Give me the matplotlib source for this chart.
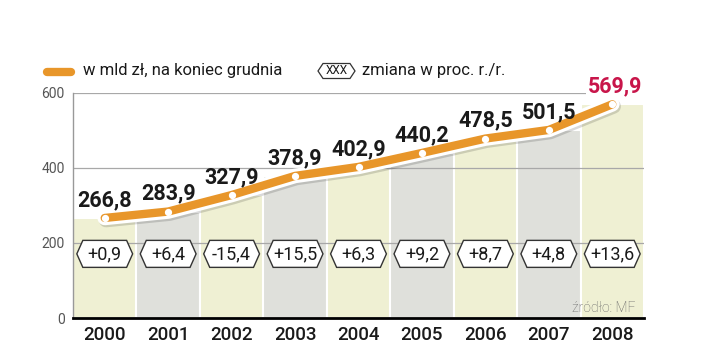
import numpy as np
import matplotlib.pyplot as plt
import matplotlib.patheffects as pe
from matplotlib.patches import Polygon
from matplotlib.lines import Line2D

plt.rcParams['font.family'] = ['Roboto', 'DejaVu Sans']

# data
years = ["2000", "2001", "2002", "2003", "2004", "2005", "2006", "2007", "2008"]
values = [266.8, 283.9, 327.9, 378.9, 402.9, 440.2, 478.5, 501.5, 569.9]
value_labels = ["266,8", "283,9", "327,9", "378,9", "402,9", "440,2", "478,5", "501,5", "569,9"]
changes = ["+0,9", "+6,4", "-15,4", "+15,5", "+6,3", "+9,2", "+8,7", "+4,8", "+13,6"]
yticks = [0, 200, 400, 600]

CREAM = "#eff0d3"
GREY = "#dfe0db"
ORANGE = "#e8962a"
RED = "#c8154a"
DARK = "#1a1a1a"

W, H = 720, 344
fig = plt.figure(figsize=(W / 100, H / 100), dpi=100)
ax = fig.add_axes([73 / W, 26 / H, 571 / W, 225 / H])

x = np.arange(len(years))

# background columns
colors = [CREAM if i % 2 == 0 else GREY for i in range(len(years))]
ax.bar(x, values, width=1.0, color=colors, edgecolor="white", linewidth=1.5, zorder=1)

# gridlines
for t in yticks[1:]:
    ax.axhline(t, color="#a8a8a8", linewidth=0.9, zorder=2)

# line with white outline and soft shadow
ax.plot(x, values, color="white", linewidth=10.5, solid_capstyle="round", zorder=3,
        path_effects=[pe.SimpleLineShadow(offset=(1, -1.5), shadow_color="#000000", alpha=0.15),
                      pe.Normal()])
ax.plot(x, values, color=ORANGE, linewidth=6, solid_capstyle="round", zorder=4)
ax.plot(x, values, linestyle="none", marker="o", markersize=4.2, markerfacecolor="white",
        markeredgecolor="white", zorder=5)

# value labels
for i, (v, lab) in enumerate(zip(values, value_labels)):
    last = i == len(values) - 1
    ax.annotate(lab, (i, v), xytext=(2 if last else 0, 13), textcoords="offset points",
                ha="center", va="center", fontsize=15.5, fontweight="bold",
                color=RED if last else DARK, zorder=6, annotation_clip=False,
                bbox=dict(boxstyle="square,pad=0.1", fc="white", ec="none") if last else None)

# hexagon change labels
HEX_Y = 171
hw, tip, hh = 0.44, 0.095, 36
for i, c in enumerate(changes):
    pts = [(i - hw, HEX_Y), (i - hw + tip, HEX_Y + hh), (i + hw - tip, HEX_Y + hh),
           (i + hw, HEX_Y), (i + hw - tip, HEX_Y - hh), (i - hw + tip, HEX_Y - hh)]
    ax.add_patch(Polygon(pts, closed=True, facecolor="white", edgecolor="#333333",
                         linewidth=1.0, zorder=6))
    ax.text(i, HEX_Y, c, ha="center", va="center", fontsize=13, color=DARK, zorder=7)

ax.set_xlim(-0.5, len(years) - 0.5)
ax.set_ylim(0, 600)
ax.set_xticks(x)
ax.set_xticklabels(years, fontsize=13.5, fontweight="medium", color=DARK)
ax.set_yticks(yticks)
ax.set_yticklabels([str(t) for t in yticks], fontsize=10, color="#555555")
ax.tick_params(axis="both", length=0)
ax.tick_params(axis="x", pad=6)
ax.tick_params(axis="y", pad=6)

for s in ["top", "right"]:
    ax.spines[s].set_visible(False)
ax.spines["left"].set_color("#999999")
ax.spines["left"].set_linewidth(1.0)
ax.spines["bottom"].set_color("black")
ax.spines["bottom"].set_linewidth(2.0)
ax.spines["left"].set_zorder(8)
ax.spines["bottom"].set_zorder(8)

ax.text(0.985, 0.045, "źródło: MF", transform=ax.transAxes, ha="right", va="center",
        fontsize=10, color="#666666", fontweight="light", zorder=7)

# legend
fig.add_artist(Line2D([47 / W, 71 / W], [1 - 72 / H, 1 - 72 / H], color=ORANGE,
                      linewidth=6, solid_capstyle="round", transform=fig.transFigure))
fig.text(83 / W, 1 - 71 / H, "w mld zł, na koniec grudnia", fontsize=12, color=DARK,
         va="center", ha="left")
lx0, lx1, ly, lh, lt = 318, 355, 71, 7.5, 5
legend_hex = [(lx0, ly), (lx0 + lt, ly - lh), (lx1 - lt, ly - lh), (lx1, ly),
              (lx1 - lt, ly + lh), (lx0 + lt, ly + lh)]
fig.add_artist(Polygon([(px / W, 1 - py / H) for px, py in legend_hex], closed=True,
                       facecolor="white", edgecolor="#333333", linewidth=0.9,
                       transform=fig.transFigure))
fig.text((lx0 + lx1) / 2 / W, 1 - ly / H, "XXX", fontsize=8.5, color=DARK,
         ha="center", va="center")
fig.text(362 / W, 1 - 71 / H, "zmiana w proc. r./r.", fontsize=12, color=DARK,
         va="center", ha="left")

fig.savefig("out.png", dpi=100)
